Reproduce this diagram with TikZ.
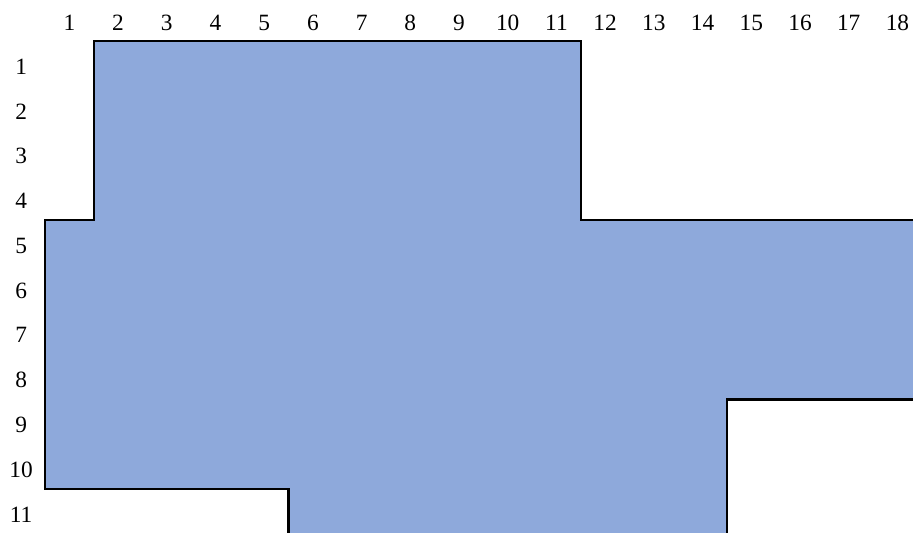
\documentclass[tikz,border=0pt]{standalone}
\usepackage{fontspec}
\setmainfont{Liberation Serif}
\definecolor{cellblue}{RGB}{142,169,219}
\tikzset{
  numlabel/.style={inner sep=0pt, font=\fontsize{17.5}{19}\selectfont}
}
\begin{document}
\begin{tikzpicture}[x=36.53pt, y=-33.6pt]
    			% Page frame
				\useasboundingbox (-0.924,-0.915) rectangle (17.82,10.98);
    			% Region
				\filldraw[fill=cellblue, line width=1.8pt, line join=miter]
					(1,0) -- (11,0) -- (11,4) -- (18.5,4) -- (18.5,8) -- (14,8) -- (14,11.5)
					-- (5,11.5) -- (5,10) -- (0,10) -- (0,4) -- (1,4) -- cycle;
    			% Column numbers
				\foreach \c in {1,...,18}
					\node[numlabel] (c\c) at (\c-0.5,-0.41) {\c};
    			% Row numbers
				\foreach \r in {1,...,11}
					\node[numlabel] (r\r) at (-0.49,\r-0.43) {\r};
			\end{tikzpicture}
\end{document}
